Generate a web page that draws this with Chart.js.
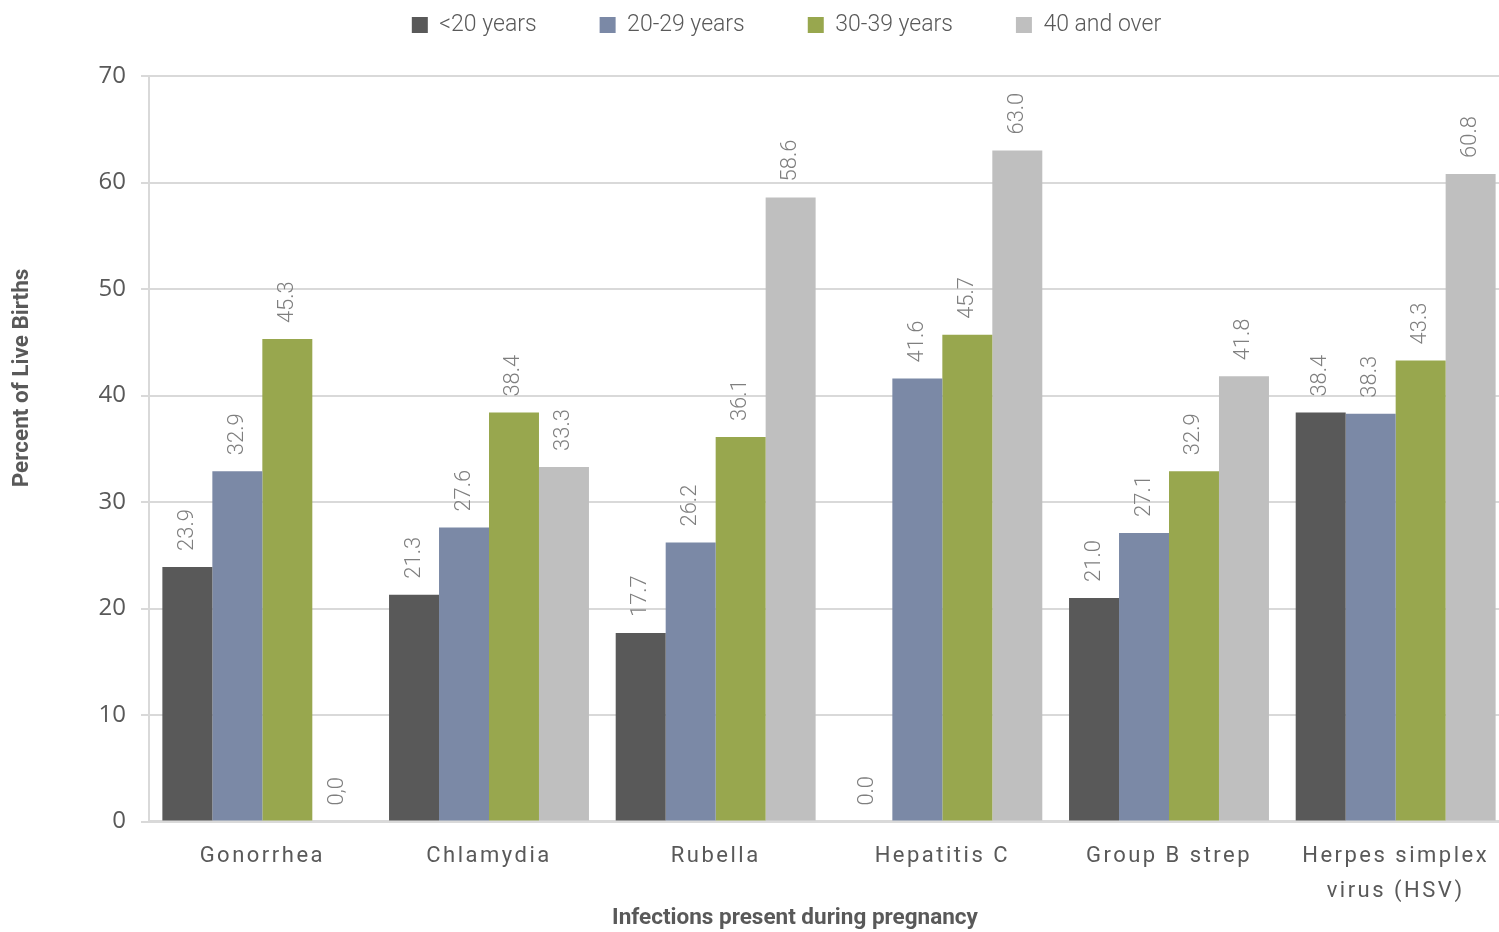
<!DOCTYPE html>
<html>
<head>
<meta charset="utf-8">
<script src="https://cdn.jsdelivr.net/npm/chart.js@4.4.1/dist/chart.umd.min.js"></script>
<style>
  html, body { margin: 0; padding: 0; background: #fff; overflow: hidden; }
  .wrap { width: 1512px; height: 932px; position: relative; }
</style>
</head>
<body>
<div class="wrap"><canvas id="infectionsChart"></canvas></div>
<script>
const infections = ['Gonorrhea', 'Chlamydia', 'Rubella', 'Hepatitis C', 'Group B strep', ['Herpes simplex', 'virus (HSV)']];
const seriesNames = ['<20 years', '20-29 years', '30-39 years', '40 and over'];
const under20 = [23.9, 21.3, 17.7, 0.0, 21.0, 38.4];
const age20to29 = [32.9, 27.6, 26.2, 41.6, 27.1, 38.3];
const age30to39 = [45.3, 38.4, 36.1, 45.7, 32.9, 43.3];
const age40plus = [0.0, 33.3, 58.6, 63.0, 41.8, 60.8];
const seriesColors = ['#595959', '#7b89a6', '#98a74e', '#bfbfbf'];
const yTicks = [0, 10, 20, 30, 40, 50, 60, 70];
// the source prints this one zero with a comma
const labelOverrides = { '3-0': '0,0' };
const yTitle = 'Percent of Live Births';
const xTitle = 'Infections present during pregnancy';

const narrow = "Roboto, 'Liberation Sans', sans-serif";
const textGrey = '#595959';

const barLabels = {
  id: 'barLabels',
  afterDatasetsDraw(chart) {
    const { ctx } = chart;
    ctx.save();
    ctx.font = `300 22px ${narrow}`;
    ctx.fillStyle = '#7f7f7f';
    ctx.textAlign = 'left';
    ctx.textBaseline = 'middle';
    chart.data.datasets.forEach((ds, di) => {
      chart.getDatasetMeta(di).data.forEach((bar, i) => {
        const text = labelOverrides[`${di}-${i}`] || ds.data[i].toFixed(1);
        ctx.save();
        ctx.translate(bar.x, bar.y - 16);
        ctx.rotate(-Math.PI / 2);
        ctx.fillText(text, 0, 0);
        ctx.restore();
      });
    });
    ctx.restore();
  }
};

const axisTitles = {
  id: 'axisTitles',
  afterDraw(chart) {
    const { ctx } = chart;
    ctx.save();
    ctx.font = `bold 22.5px ${narrow}`;
    ctx.fillStyle = textGrey;
    ctx.textAlign = 'center';
    ctx.textBaseline = 'middle';
    ctx.fillText(xTitle, 795, 918);
    ctx.translate(22, 378);
    ctx.rotate(-Math.PI / 2);
    ctx.fillText(yTitle, 0, 0);
    ctx.restore();
  }
};

// spaced-out category labels like the original
const spacedLabels = {
  id: 'spacedLabels',
  beforeDraw(chart) {
    const x = chart.scales.x;
    if (x._spaced) return;
    const orig = x.drawLabels;
    x.drawLabels = function (area) {
      const ctx = this.ctx;
      ctx.save();
      ctx.letterSpacing = '2.5px';
      orig.call(this, area);
      ctx.restore();
    };
    x._spaced = true;
  }
};

const ctx = document.getElementById('infectionsChart');
new Chart(ctx, {
  type: 'bar',
  data: {
    labels: infections,
    datasets: [under20, age20to29, age30to39, age40plus].map((values, i) => ({
      label: seriesNames[i],
      data: values,
      backgroundColor: seriesColors[i],
      borderWidth: 0,
      categoryPercentage: 0.882,
      barPercentage: 1.0
    }))
  },
  options: {
    responsive: true,
    maintainAspectRatio: false,
    animation: false,
    layout: {
      padding: { top: -49.5, left: 64, right: 3, bottom: 6 }
    },
    plugins: {
      legend: {
        position: 'top',
        labels: {
          boxWidth: 16,
          boxHeight: 16,
          padding: 63,
          color: textGrey,
          font: { family: narrow, size: 23, weight: '300' }
        }
      },
      title: {
        display: true,
        text: '',
        weight: 100,
        font: { size: 10, lineHeight: 1 },
        padding: { top: 0, bottom: 19.5 }
      },
      tooltip: { enabled: false }
    },
    scales: {
      x: {
        grid: { display: false, drawTicks: false },
        border: { display: true, color: '#d9d9d9', width: 3 },
        ticks: {
          color: textGrey,
          autoSkip: false,
          maxRotation: 0,
          padding: 17,
          font: { family: narrow, size: 22, lineHeight: 1.6 }
        }
      },
      y: {
        min: 0,
        max: 70,
        afterBuildTicks: (axis) => { axis.ticks = yTicks.map(v => ({ value: v })); },
        afterFit: (axis) => { axis.width = 85; },
        grid: { color: '#d9d9d9', lineWidth: 2, tickLength: 8 },
        border: { display: true, color: '#d9d9d9', width: 2 },
        ticks: {
          color: textGrey,
          padding: 15,
          font: { family: "'Open Sans', 'Liberation Sans', sans-serif", size: 24 }
        }
      }
    }
  },
  plugins: [barLabels, axisTitles, spacedLabels]
});
</script>
</body>
</html>
